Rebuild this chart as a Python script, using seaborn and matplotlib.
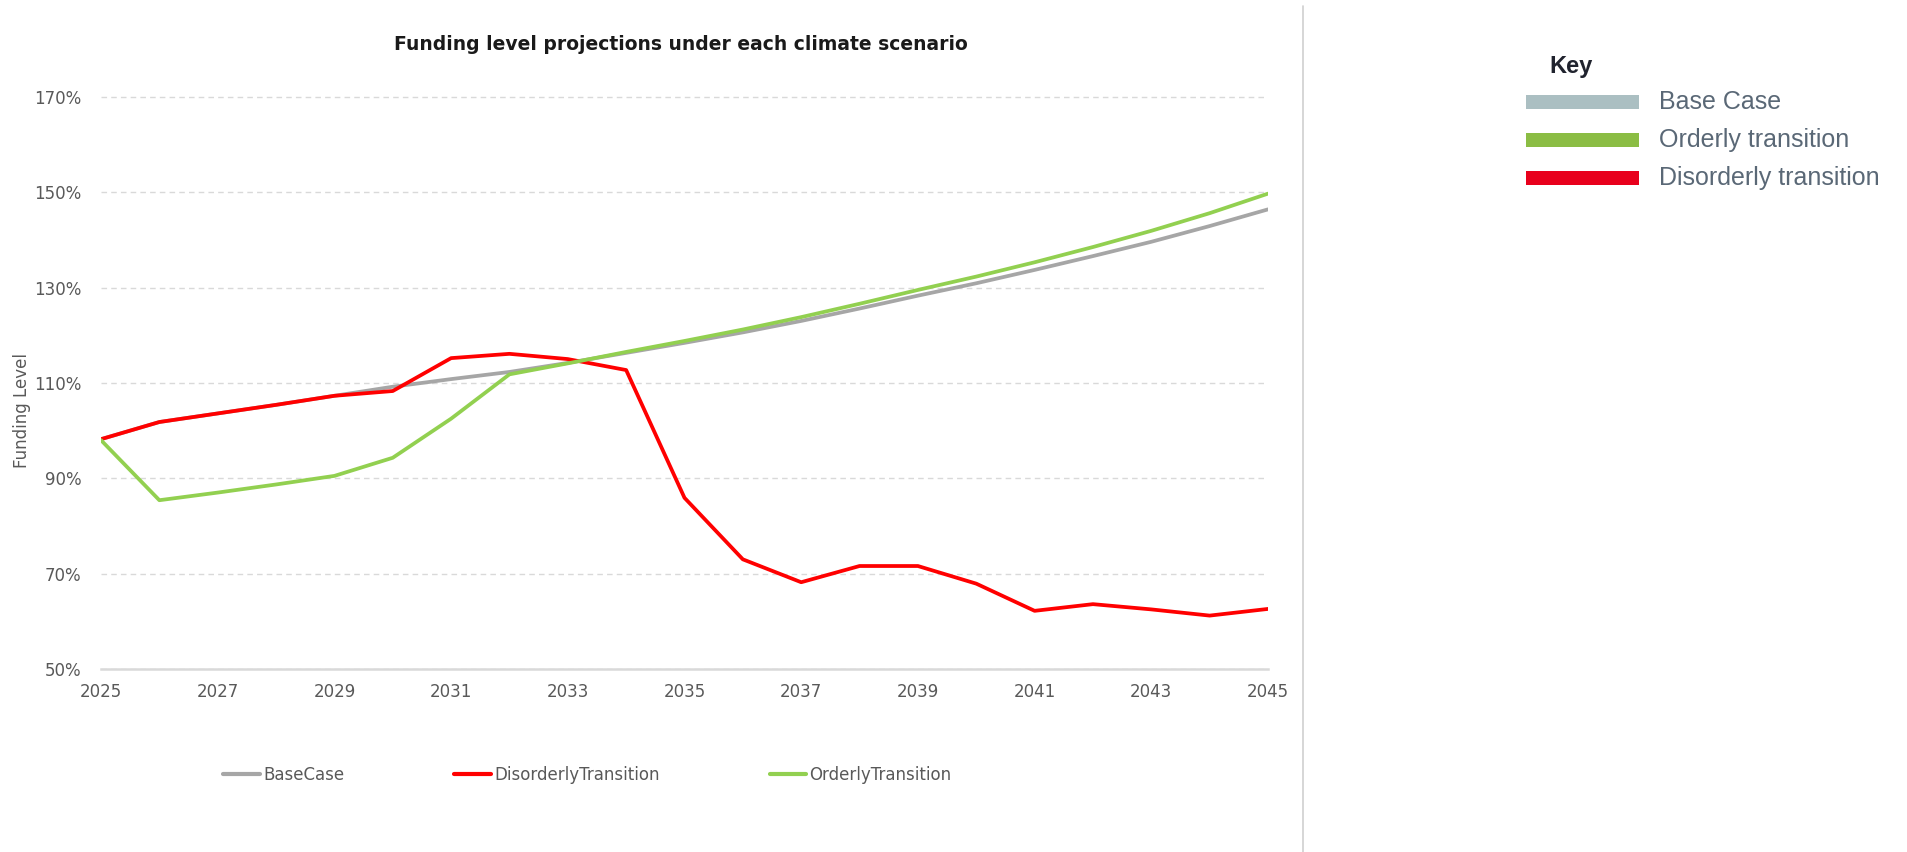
import matplotlib
matplotlib.use("Agg")
import matplotlib.pyplot as plt
import seaborn as sns
import pandas as pd
from matplotlib.patches import Rectangle
from matplotlib.lines import Line2D
from matplotlib.ticker import FuncFormatter

years = list(range(2025, 2046))
base_case = [98.2, 101.8, 103.6, 105.4, 107.3, 109.2, 110.8, 112.3, 114.2, 116.3, 118.4,
             120.6, 123.0, 125.6, 128.3, 130.9, 133.7, 136.6, 139.6, 142.9, 146.4]
disorderly = [98.2, 101.8, 103.6, 105.4, 107.3, 108.3, 115.2, 116.1, 115.0, 112.7, 85.9,
              73.0, 68.2, 71.6, 71.6, 67.9, 62.2, 63.6, 62.5, 61.2, 62.6]
orderly = [98.0, 85.4, 87.0, 88.7, 90.5, 94.3, 102.5, 111.8, 114.1, 116.5, 118.8,
           121.2, 123.8, 126.6, 129.5, 132.3, 135.3, 138.5, 141.9, 145.6, 149.7]
series_names = ["BaseCase", "DisorderlyTransition", "OrderlyTransition"]
series_colors = ["#a6a6a6", "#ff0000", "#92d050"]
y_ticks = [50, 70, 90, 110, 130, 150, 170]
x_ticks = list(range(2025, 2046, 2))
title = "Funding level projections under each climate scenario"
y_label = "Funding Level"
key_title = "Key"
key_labels = ["Base Case", "Orderly transition", "Disorderly transition"]
key_colors = ["#abbfc2", "#8bbd44", "#e8001c"]

df = pd.DataFrame({
    "Year": years * 3,
    "Value": base_case + disorderly + orderly,
    "Scenario": [series_names[0]] * len(years) + [series_names[1]] * len(years)
                + [series_names[2]] * len(years),
})

sns.set_theme(style="white")
plt.rcParams["font.family"] = ["DejaVu Sans"]

W, H = 1908, 852
fig = plt.figure(figsize=(W / 100, H / 100), dpi=100)
ax_left, ax_right, ax_top, ax_bottom = 101, 1268, 73, 669
ax = fig.add_axes([ax_left / W, 1 - ax_bottom / H, (ax_right - ax_left) / W, (ax_bottom - ax_top) / H])

sns.lineplot(data=df, x="Year", y="Value", hue="Scenario", hue_order=series_names,
             palette=dict(zip(series_names, series_colors)), linewidth=2.7, ax=ax)

ax.set_xlim(2025, 2045)
ax.set_ylim(50, 175)
ax.set_yticks(y_ticks)
ax.set_xticks(x_ticks)
ax.yaxis.set_major_formatter(FuncFormatter(lambda v, p: f"{v:.0f}%"))
ax.grid(axis="y", color="#d9d9d9", linestyle=(0, (4, 3)), linewidth=1.0)
ax.grid(axis="x", visible=False)
for s in ["top", "right", "left"]:
    ax.spines[s].set_visible(False)
ax.spines["bottom"].set_color("#d9d9d9")
ax.spines["bottom"].set_linewidth(1.8)
ax.tick_params(axis="both", length=0, labelsize=12, labelcolor="#595959")
ax.tick_params(axis="y", pad=14)
ax.tick_params(axis="x", pad=10)
ax.set_xlabel("")
ax.set_ylabel(y_label, fontsize=12, color="#595959")
ax.yaxis.set_label_coords(-0.0603, 0.433)

fig.text(681 / W, 1 - 44 / H, title, fontsize=13.5, fontweight="bold", color="#1a1a1a",
         ha="center", va="center")

handles, labels = ax.get_legend_handles_labels()
leg = ax.legend(handles, labels, loc="center left", ncol=3, frameon=False,
                bbox_to_anchor=(223 / W, 1 - 775 / H), bbox_transform=fig.transFigure,
                fontsize=12, handlelength=2.2, handletextpad=0.2, columnspacing=6.6,
                borderpad=0, borderaxespad=0)
for t in leg.get_texts():
    t.set_color("#595959")
for l in leg.get_lines():
    l.set_linewidth(3)

# separator line
fig.add_artist(Line2D([1303 / W, 1303 / W], [0, 1 - 6 / H], transform=fig.transFigure,
                      color="#d0d0d0", linewidth=1.2))

# key panel
fig.text(1549 / W, 1 - 66 / H, key_title, fontsize=17, fontweight="bold", color="#20232e",
         family="Liberation Sans", va="center", ha="left")
key_y = [102, 140, 178]
for lab, col, yy in zip(key_labels, key_colors, key_y):
    fig.add_artist(Rectangle((1526 / W, 1 - (yy + 6.5) / H), 113 / W, 13 / H,
                             transform=fig.transFigure, facecolor=col, edgecolor="none"))
    fig.text(1659 / W, 1 - yy / H, lab, fontsize=18, color="#5a6876",
             family="Liberation Sans", va="center", ha="left")

fig.savefig("out.png", dpi=100, facecolor="white")
